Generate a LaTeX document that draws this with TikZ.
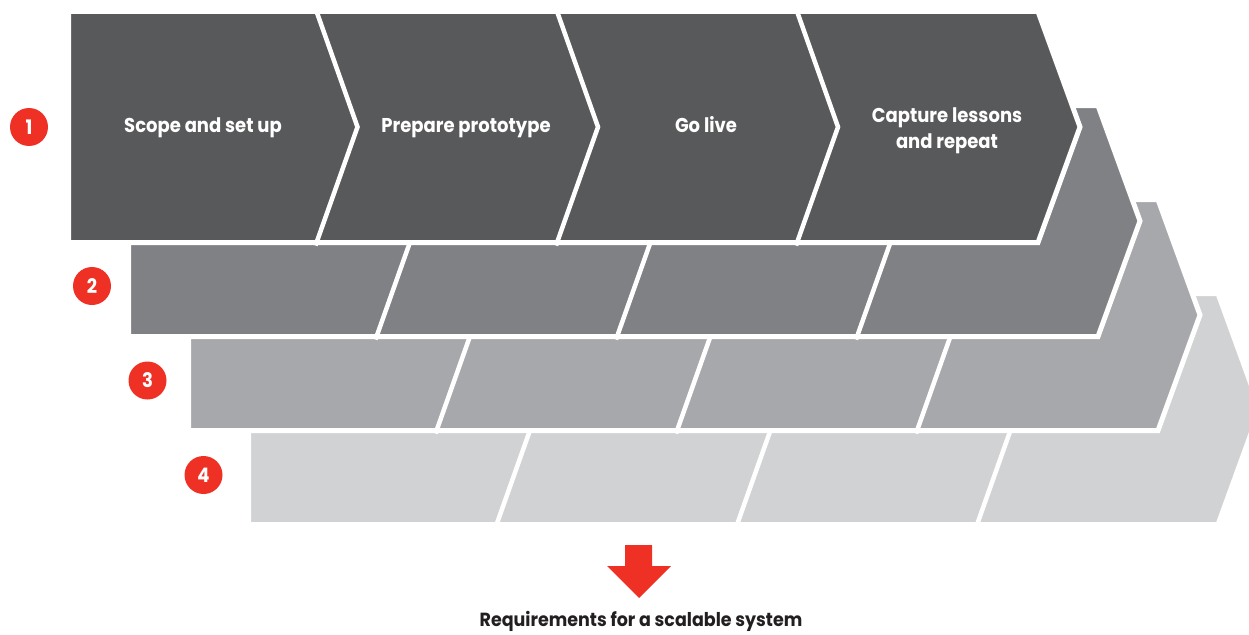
\documentclass[tikz,border=0pt]{standalone}
\usepackage{fontspec}
\setmainfont{Poppins}[FakeStretch=0.9]
\definecolor{tierA}{HTML}{58595B}
\definecolor{tierB}{HTML}{808184}
\definecolor{tierC}{HTML}{A7A8AB}
\definecolor{tierD}{HTML}{D1D2D4}
\definecolor{markred}{HTML}{EE3124}
\definecolor{inkdark}{HTML}{231F20}
\tikzset{
  band/.style={draw=white, line width=5pt, line join=miter},
  divider/.style={draw=white, line width=4.5pt},
  badge/.style={circle, fill=markred, minimum size=38pt, inner sep=0pt,
                text=white, font=\bfseries\fontsize{20}{20}\selectfont},
  steplabel/.style={text=white, anchor=base,
                font=\bfseries\fontsize{20}{26}\selectfont},
}
% one chevron band: top-left corner (#1,#2) in pixel units, fill colour #3
\newcommand{\chevband}[3]{%
  \begin{scope}[shift={(#1,#2)}]
    \fill[#3] (0,0) -- (969.5,0) -- (1011.5,115.5) -- (969.5,231) -- (0,231) -- cycle;
    \foreach \s in {247,487.5,727.5}
      \draw[divider] (\s,-3) -- (\s+42,115.5) -- (\s,234);
    \draw[band] (0,0) -- (969.5,0) -- (1011.5,115.5) -- (969.5,231) -- (0,231) -- cycle;
  \end{scope}}
\begin{document}
\begin{tikzpicture}[x=1pt,y=-1pt]
  \useasboundingbox (0,0) rectangle (1249,634);
  \clip (0,0) rectangle (1249,634);
  % bands, back to front
  \chevband{248.5}{293.5}{tierD}
  \chevband{188.5}{199.5}{tierC}
  \chevband{128.5}{105.5}{tierB}
  \chevband{68.5}{11.5}{tierA}
  % step labels
  \node[steplabel] (s1) at (203,132) {Scope and set up};
  \node[steplabel] (s2) at (466,132) {Prepare prototype};
  \node[steplabel] (s3) at (706,132) {Go live};
  \node[steplabel] (s4a) at (947,122) {Capture lessons};
  \node[steplabel] (s4b) at (947,148) {and repeat};
  % tier badges
  \node[badge] (b1) at (29,127) {1};
  \node[badge] (b2) at (92,286) {2};
  \node[badge] (b3) at (147.5,380.5) {3};
  \node[badge] (b4) at (203.5,475) {4};
  % outcome arrow
  \fill[markred] (625,545) -- (652,545) -- (652,566) -- (671,566) -- (639,598)
    -- (607,566) -- (625,566) -- cycle;
  \node[text=inkdark, anchor=base, font=\bfseries\fontsize{19}{19}\selectfont\addfontfeature{FakeStretch=0.92}] (req) at (641,626)
    {Requirements for a scalable system};
\end{tikzpicture}
\end{document}
